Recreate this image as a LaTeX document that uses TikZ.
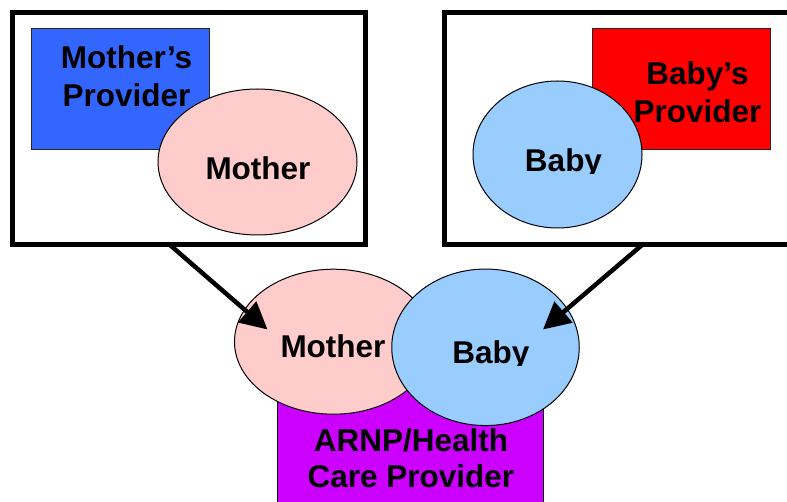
\documentclass[tikz,border=0pt]{standalone}
\usepackage{fontspec}
\setmainfont{Liberation Sans}
\usetikzlibrary{arrows.meta,shapes.geometric}
\definecolor{provblue}{HTML}{3366FF}
\definecolor{provred}{HTML}{FF0000}
\definecolor{momfill}{HTML}{FFCCCC}
\definecolor{babyfill}{HTML}{99CCFF}
\definecolor{arnpfill}{HTML}{CC00FF}
\tikzset{
  frame/.style={draw=black, line width=5pt, inner sep=0pt, fill=white},
  provbox/.style={draw=black!85, line width=1pt, inner sep=0pt},
  person/.style={ellipse, draw=black, line width=1pt, inner sep=0pt},
  lbl/.style={font=\bfseries\fontsize{31.5}{38}\selectfont, inner sep=0pt, align=center},
  flow/.style={line width=4.5pt, -{Triangle[length=27pt, width=27pt]}, shorten >=0pt}
}
\begin{document}
\begin{tikzpicture}[x=1pt, y=-1pt]
\useasboundingbox (0,0) rectangle (787,502);
% top frames
\node[frame, minimum width=353pt, minimum height=232pt] (lbox) at (189,128.5) {};
\node[frame, minimum width=347pt, minimum height=232pt] (rbox) at (618,128.5) {};
% left content
\node[provbox, fill=provblue, minimum width=178pt, minimum height=121pt] (mprov) at (120,89.5) {};
\node[lbl, anchor=base] (mprovt) at (126.5,107) {Mother’s\\Provider};
\node[person, fill=momfill, minimum width=199pt, minimum height=146pt] (mom1) at (257.5,162) {};
\node[lbl, anchor=base] (mom1t) at (258,180) {Mother};
% right content
\node[provbox, fill=provred, minimum width=178pt, minimum height=121pt] (bprov) at (681,89.5) {};
\node[person, fill=babyfill, minimum width=169pt, minimum height=147pt] (baby1) at (557.5,154.5) {};
\node[lbl, anchor=base] (bprovt) at (697.5,123) {Baby’s\\Provider};
\begin{scope}
\clip (500,130) rectangle (620,173.5);
\node[lbl, anchor=base] (baby1t) at (563.5,172) {Baby};
\end{scope}
% bottom
\node[provbox, draw=black, fill=arnpfill, minimum width=266pt, minimum height=130pt] (arnp) at (410.3,455) {};
\node[lbl, anchor=base, font=\bfseries\fontsize{31.5}{36}\selectfont] (arnpt) at (411,487) {ARNP/Health\\Care Provider};
\node[person, fill=momfill, minimum width=198pt, minimum height=145pt] (mom2) at (333.5,341.7) {};
\node[lbl, anchor=base] (mom2t) at (333,358) {Mother};
\node[person, fill=babyfill, minimum width=187.5pt, minimum height=156.5pt] (baby2) at (485.5,347.3) {};
\begin{scope}
\clip (430,320) rectangle (550,365.5);
\node[lbl, anchor=base] (baby2t) at (491,363.3) {Baby};
\end{scope}
% arrows
\coordinate (a1) at (170,245);
\coordinate (t1) at (267.5,329.5);
\coordinate (a2) at (642,245);
\coordinate (t2) at (543,329.5);
\draw[flow] (a1) -- (t1);
\draw[flow] (a2) -- (t2);
\end{tikzpicture}
\end{document}
